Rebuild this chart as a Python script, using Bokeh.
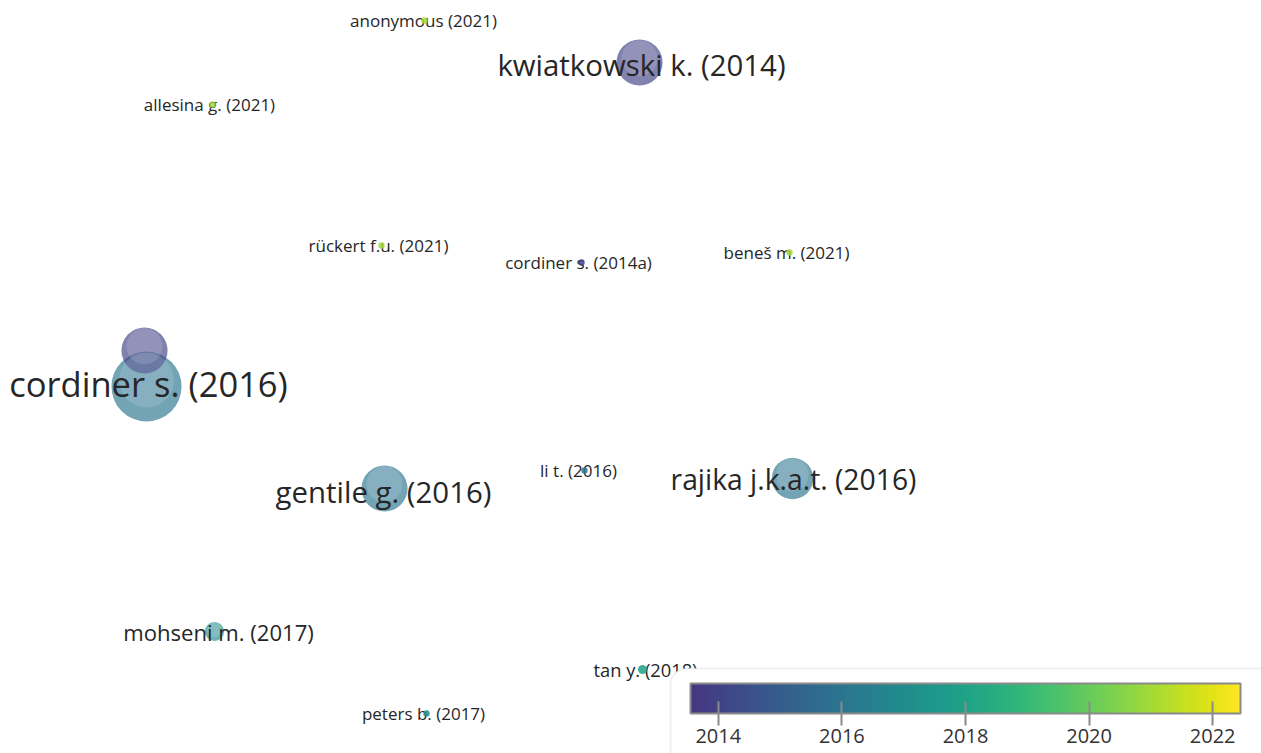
import numpy as np
from bokeh.plotting import figure
from bokeh.models import (ColumnDataSource, LinearColorMapper, ColorBar, FixedTicker,
                          Range1d, BoxAnnotation, CDSView, BooleanFilter)
from bokeh.palettes import Viridis256
from bokeh.transform import transform
from bokeh.core.properties import value
from bokeh.embed import file_html
from bokeh.resources import INLINE

# Document citation overlay map: one node per document
labels = ["cordiner s. (2016)", "", "kwiatkowski k. (2014)", "gentile g. (2016)",
          "rajika j.k.a.t. (2016)", "mohseni m. (2017)", "tan y. (2018)", "peters b. (2017)",
          "li t. (2016)", "anonymous (2021)", "allesina g. (2021)", "rückert f.u. (2021)",
          "cordiner s. (2014a)", "beneš m. (2021)"]
years = [2016, 2014, 2014, 2016, 2016, 2017, 2018, 2017, 2016, 2021, 2021, 2021, 2014, 2021]
citations = [120, 52, 52, 52, 42, 9, 2, 1, 1, 1, 1, 1, 1, 1]
map_x = [146, 144, 639, 384, 792, 214, 642, 426, 584, 424, 212, 381, 581, 789]
map_y = [386, 350, 62, 488, 478, 631, 669, 713, 470, 20, 104, 245, 262, 252]
label_x = [148, 144, 641, 383, 793, 218, 645, 423, 578, 423, 209, 378, 578, 786]
label_y = [383, 350, 64, 491, 478, 631, 669, 713, 470, 20, 104, 245, 262, 252]
year_ticks = [2014, 2016, 2018, 2020, 2022]

W, H = 1261, 753

cites = np.array(citations, dtype=float)
radius = 3.2 * np.sqrt(cites)
font_px = 17 + 5.47 * (cites ** 0.3 - 1)

nodes = ColumnDataSource(dict(
    x=map_x, y=map_y, lx=label_x, ly=label_y, year=years, r=radius,
    hx=map_x, hy=list(np.array(map_y) - 0.18 * radius), hr=0.78 * radius,
    text=labels, fs=[f"{f:.1f}px" for f in font_px],
))
big = CDSView(filter=BooleanFilter(list(cites >= 5)))
small = CDSView(filter=BooleanFilter(list(cites < 5)))

mapper = LinearColorMapper(palette=Viridis256[40:], low=2013.55, high=2022.45)

p = figure(width=W, height=H, x_range=Range1d(0, W), y_range=Range1d(H, 0),
           output_backend="svg", toolbar_location=None,
           x_axis_location=None, y_axis_location=None, min_border=0)
p.grid.visible = False
p.outline_line_color = None
p.background_fill_color = "white"
p.border_fill_color = "white"

# larger discs sit under the labels, with a soft highlight towards the top
p.circle(x="x", y="y", radius="r", source=nodes, view=big,
         fill_color=transform("year", mapper), fill_alpha=0.66, line_color=None)
p.circle(x="hx", y="hy", radius="hr", source=nodes, view=big,
         fill_color="white", fill_alpha=0.14, line_color=None)

p.text(x="lx", y="ly", text="text", source=nodes, text_align="center",
       text_baseline="middle", text_font=value("Open Sans"),
       text_font_size="fs", text_color="#262626")

# the smallest dots stay visible on top of their labels
p.circle(x="x", y="y", radius="r", source=nodes, view=small,
         fill_color=transform("year", mapper), fill_alpha=0.85, line_color=None)

# legend panel with rounded frame
panel = BoxAnnotation(left=670, right=1300, top=668, bottom=800,
                      fill_color="white", fill_alpha=1.0,
                      line_color="#cccccc", line_width=2, border_radius=16)
p.add_layout(panel)

cb = ColorBar(color_mapper=mapper, orientation="horizontal", width=550, height=30,
              location=(690, 8), ticker=FixedTicker(ticks=year_ticks),
              major_tick_in=12, major_tick_out=12,
              major_tick_line_color="#8a8a8a", major_tick_line_width=2,
              minor_tick_line_color=None,
              bar_line_color="#8a8a8a", bar_line_width=2,
              major_label_text_font="Open Sans", major_label_text_font_size="20px",
              major_label_text_color="#333333", label_standoff=3,
              padding=0, background_fill_alpha=0, border_line_color=None)
p.add_layout(cb)

open("out.html", "w").write(file_html(p, INLINE))
